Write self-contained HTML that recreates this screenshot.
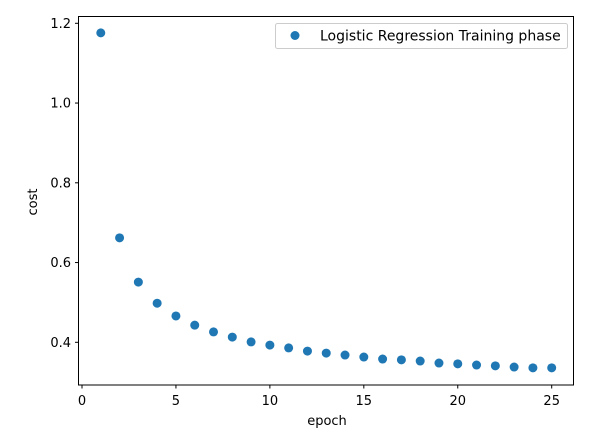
<!DOCTYPE html>
<html><head><meta charset="utf-8"><style>
html,body{margin:0;padding:0;background:#fff;}
svg{display:block;font-family:"DejaVu Sans","Liberation Sans",sans-serif;}
</style></head><body>
<svg id="chart" width="605" height="437" viewBox="0 0 605 437">
<rect width="605" height="437" fill="#fff"/>
<g id="marks"></g>
<g id="axes"></g>
<rect x="78.5" y="16.5" width="495" height="368.5" fill="none" stroke="#000" stroke-width="1"/>
<text x="327" y="425" font-size="13" text-anchor="middle">epoch</text>
<text x="0" y="0" font-size="13" text-anchor="middle" transform="translate(37,202) rotate(-90)">cost</text>
<g>
<rect x="275.5" y="23.5" width="292" height="25" rx="2" fill="#fff" fill-opacity="0.8" stroke="#ccc"/>
<circle cx="295" cy="35.5" r="4.5" fill="#1f77b4"/>
<text x="320" y="40.5" font-size="14">Logistic Regression Training phase</text>
</g>
</svg>
<script>
const epochs=[1,2,3,4,5,6,7,8,9,10,11,12,13,14,15,16,17,18,19,20,21,22,23,24,25];
const costs=[1.176,0.662,0.551,0.498,0.466,0.443,0.426,0.413,0.401,0.393,0.386,0.378,0.373,0.368,0.363,0.358,0.356,0.353,0.348,0.346,0.343,0.341,0.338,0.336,0.336];
const xTicks=[0,5,10,15,20,25];
const yTicks=[0.4,0.6,0.8,1.0,1.2];
const yTickLabels=["0.4","0.6","0.8","1.0","1.2"];
const NS="http://www.w3.org/2000/svg";
function xs(v){return 82+(v-0)*(551.7-82)/25;}
function ys(v){return 342.3-(v-0.4)*398.75;}
const marks=document.getElementById('marks');
epochs.forEach((e,i)=>{
  const c=document.createElementNS(NS,'circle');
  c.setAttribute('cx',xs(e));c.setAttribute('cy',ys(costs[i]));c.setAttribute('r',4.5);c.setAttribute('fill','#1f77b4');
  
  
  marks.appendChild(c);
});
const axes=document.getElementById('axes');
xTicks.forEach(t=>{
  const x=xs(t);
  const l=document.createElementNS(NS,'line');
  l.setAttribute('x1',x);l.setAttribute('x2',x);l.setAttribute('y1',385);l.setAttribute('y2',388.5);l.setAttribute('stroke','#000');
  
  
  axes.appendChild(l);
  const tx=document.createElementNS(NS,'text');
  tx.setAttribute('x',x);tx.setAttribute('y',405);tx.setAttribute('font-size','13');tx.setAttribute('text-anchor','middle');
  tx.textContent=String(t);
  
  
  axes.appendChild(tx);
});
yTicks.forEach((t,i)=>{
  const y=ys(t);
  const l=document.createElementNS(NS,'line');
  l.setAttribute('x1',75);l.setAttribute('x2',78.5);l.setAttribute('y1',y);l.setAttribute('y2',y);l.setAttribute('stroke','#000');
  
  
  axes.appendChild(l);
  const tx=document.createElementNS(NS,'text');
  tx.setAttribute('x',71);tx.setAttribute('y',y+4.5);tx.setAttribute('font-size','13');tx.setAttribute('text-anchor','end');
  tx.textContent=yTickLabels[i];
  
  
  axes.appendChild(tx);
});
</script>
</body></html>
